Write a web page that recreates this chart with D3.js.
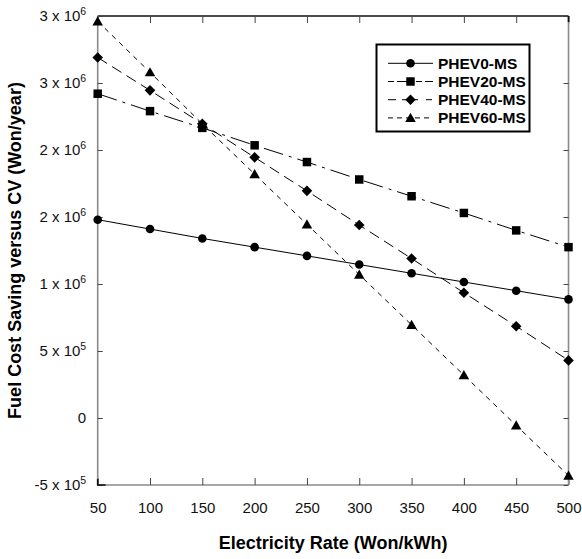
<!DOCTYPE html>
<html>
<head>
<meta charset="utf-8">
<script src="https://cdn.jsdelivr.net/npm/d3@7"></script>
<style>
  body { margin: 0; background: #fff; }
  svg { font-family: "Liberation Sans", Arial, sans-serif; }
</style>
</head>
<body>
<div id="chart"></div>
<script>
// electricity rate (Won/kWh)
const rates = [50, 100, 150, 200, 250, 300, 350, 400, 450, 500];

// fuel cost saving versus CV (Won/year)
const phev0 = [1480000, 1410000, 1340000, 1275000, 1210000, 1145000, 1080000, 1015000, 950000, 885000];
const phev20 = [2420000, 2290000, 2165000, 2035000, 1910000, 1780000, 1655000, 1530000, 1400000, 1275000];
const phev40 = [2690000, 2445000, 2195000, 1945000, 1695000, 1440000, 1190000, 935000, 685000, 430000];
const phev60 = [2960000, 2580000, 2195000, 1820000, 1445000, 1070000, 695000, 320000, -55000, -430000];

const seriesNames = ["PHEV0-MS", "PHEV20-MS", "PHEV40-MS", "PHEV60-MS"];

const yTicks = [-500000, 0, 500000, 1000000, 1500000, 2000000, 2500000, 3000000];
// labels as printed (mantissa, exponent)
const yTickLabels = [["-5", "5"], ["0", ""], ["5", "5"], ["1", "6"], ["2", "6"], ["2", "6"], ["3", "6"], ["3", "6"]];

const W = 582, H = 559;
const margin = { top: 16, right: 13.5, bottom: 74, left: 97.7 };
const width = W - margin.left - margin.right;
const height = H - margin.top - margin.bottom;

const svg = d3.select('#chart').append('svg')
    .attr('width', W)
    .attr('height', H);

const g = svg.append('g')
    .attr('transform', `translate(${margin.left},${margin.top})`);

const x = d3.scaleLinear().domain([50, 500]).range([0, width]);
const y = d3.scaleLinear().domain([-500000, 3000000]).range([height, 0]);

// axes, ticks pointing inwards
const xAxis = g.append('g')
    .attr('transform', `translate(0,${height})`)
    .call(d3.axisBottom(x).tickValues(rates).tickSize(-7).tickPadding(17).tickFormat(d3.format('d')));

const xTop = g.append('g')
    .call(d3.axisTop(x).tickValues(rates).tickSize(-7).tickFormat(''));

const yAxis = g.append('g')
    .call(d3.axisLeft(y).tickValues(yTicks).tickSize(-5).tickPadding(11.5));

const yRight = g.append('g')
    .attr('transform', `translate(${width},0)`)
    .call(d3.axisRight(y).tickValues(yTicks).tickSize(-5).tickFormat(''));

[xAxis, xTop, yAxis, yRight].forEach(a => {
    a.select('.domain').attr('stroke', '#8a8a8a').attr('stroke-width', 1.6);
    a.selectAll('.tick line').attr('stroke', '#444').attr('stroke-width', 1);
    a.selectAll('.tick text')
        .attr('font-size', 15)
        .attr('font-family', '"Liberation Sans", Arial, sans-serif')
        .attr('fill', '#111');
});
xTop.select('.domain').attr('stroke', '#111');

// plain frame lines, no outer ticks
xAxis.select('.domain').attr('d', `M0,0H${width}`);
xTop.select('.domain').attr('d', `M0,0H${width}`);
yAxis.select('.domain').attr('d', `M0,0V${height}`);
yRight.select('.domain').attr('d', `M0,0V${height}`);

// black corners
g.append('path').attr('d', `M0,${height - 6}V${height}H8`)
    .attr('fill', 'none').attr('stroke', '#111').attr('stroke-width', 1.6);
g.append('path').attr('d', `M${width},6V0`)
    .attr('fill', 'none').attr('stroke', '#111').attr('stroke-width', 1.6);

// y tick labels with superscript exponents
yAxis.selectAll('.tick text').each(function (d, i) {
    const lab = yTickLabels[i];
    const t = d3.select(this).text(null);
    if (lab[1] === '') {
        t.append('tspan').text(lab[0]);
    } else {
        t.append('tspan').text(lab[0] + ' x 10');
        t.append('tspan').attr('font-size', 10.5).attr('dy', -6).text(lab[1]);
    }
});

// series
const allSeries = [phev0, phev20, phev40, phev60];
const dashes = [null, '20,6,3,6', '11,6', '5,5'];
const symbols = [
    d3.symbol().type(d3.symbolCircle).size(58),
    d3.symbol().type(d3.symbolSquare).size(72),
    d3.symbol().type(d3.symbolSquare).size(56),
    d3.symbol().type(d3.symbolTriangle).size(48)
];
const rotations = [0, 0, 45, 0];

const line = d3.line()
    .x((d, i) => x(rates[i]))
    .y(d => y(d));

allSeries.forEach((vals, s) => {
    g.append('path')
        .datum(vals)
        .attr('fill', 'none')
        .attr('stroke', '#000')
        .attr('stroke-width', 1)
        .attr('stroke-dasharray', dashes[s])
        .attr('d', line);

    g.selectAll('.m' + s)
        .data(vals)
        .enter().append('path')
        .attr('class', 'm' + s)
        .attr('d', symbols[s])
        .attr('fill', '#000')
        .attr('transform', (d, i) => `translate(${x(rates[i])},${y(d) + (s === 3 ? 1 : 0)}) rotate(${rotations[s]})`);
});

// legend
const lg = svg.append('g');
lg.append('rect')
    .attr('x', 376.5).attr('y', 44.5)
    .attr('width', 153).attr('height', 87)
    .attr('fill', '#fff')
    .attr('stroke', '#000')
    .attr('stroke-width', 2);

const legendDashes = [null, '6,3,16,3', '8,6,16', '5,4'];
seriesNames.forEach((name, s) => {
    const cy = 63.3 + s * 18.2;
    lg.append('line')
        .attr('x1', 388).attr('x2', 433)
        .attr('y1', cy).attr('y2', cy)
        .attr('stroke', '#000')
        .attr('stroke-width', 1)
        .attr('stroke-dasharray', legendDashes[s]);
    lg.append('path')
        .attr('d', symbols[s])
        .attr('fill', '#000')
        .attr('transform', `translate(410.5,${cy + (s === 3 ? 1 : 0)}) rotate(${rotations[s]})`);
    lg.append('text')
        .attr('x', 438).attr('y', cy + 5.3)
        .attr('font-size', 15.5)
        .attr('font-weight', 'bold')
        .text(name);
});

// axis titles
svg.append('text')
    .attr('x', margin.left + width / 2)
    .attr('y', 549)
    .attr('text-anchor', 'middle')
    .attr('font-size', 18)
    .attr('font-weight', 'bold')
    .text('Electricity Rate (Won/kWh)');

svg.append('text')
    .attr('transform', `translate(21,${margin.top + height / 2}) rotate(-90)`)
    .attr('text-anchor', 'middle')
    .attr('font-size', 18)
    .attr('font-weight', 'bold')
    .text('Fuel Cost Saving versus CV (Won/year)');
</script>
</body>
</html>
